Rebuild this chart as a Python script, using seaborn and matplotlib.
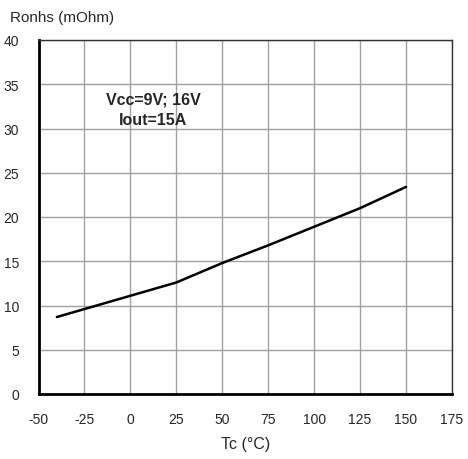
import matplotlib
matplotlib.use("Agg")
import matplotlib.pyplot as plt
import seaborn as sns
import pandas as pd

# Data
tc = [-40, 0, 25, 50, 75, 100, 125, 150]
ronhs = [8.7, 11.1, 12.6, 14.8, 16.8, 18.9, 21.0, 23.4]
x_ticks = [-50, -25, 0, 25, 50, 75, 100, 125, 150, 175]
y_ticks = [0, 5, 10, 15, 20, 25, 30, 35, 40]

df = pd.DataFrame({"Tc": tc, "Ronhs": ronhs})

sns.set_style("white")
plt.rcParams["font.family"] = ["Liberation Sans", "DejaVu Sans"]

fig = plt.figure(figsize=(4.68, 4.60), dpi=100)
ax = fig.add_axes([38.5 / 468, 65 / 460, 413.5 / 468, 354 / 460])

sns.lineplot(data=df, x="Tc", y="Ronhs", color="black", linewidth=1.8, ax=ax)

ax.set_xlim(-50, 175)
ax.set_ylim(0, 40)
ax.set_xticks(x_ticks)
ax.set_yticks(y_ticks)
ax.set_xticklabels([str(v) for v in x_ticks], fontsize=10)
ax.set_yticklabels([str(v) for v in y_ticks], fontsize=10)
ax.tick_params(axis="both", length=0)
ax.tick_params(axis="x", pad=13)
ax.tick_params(axis="y", pad=14)

ax.grid(True, color="#a0a0a0", linewidth=1.0)
ax.set_axisbelow(True)

for side in ["left", "bottom"]:
    ax.spines[side].set_color("black")
    ax.spines[side].set_linewidth(2.0)
for side in ["top", "right"]:
    ax.spines[side].set_color("#333333")
    ax.spines[side].set_linewidth(1.0)

ax.set_xlabel("Tc (°C)", fontsize=11.5, labelpad=7)
ax.set_ylabel("")
fig.text(10 / 468, 1 - 18 / 460, "Ronhs (mOhm)", fontsize=11, ha="left", va="center")

ax.text(12.3, 32.2, "Vcc=9V; 16V\nIout=15A", fontsize=11.5, fontweight="bold",
        ha="center", va="center", linespacing=1.45)

fig.savefig("out.png", dpi=100)
